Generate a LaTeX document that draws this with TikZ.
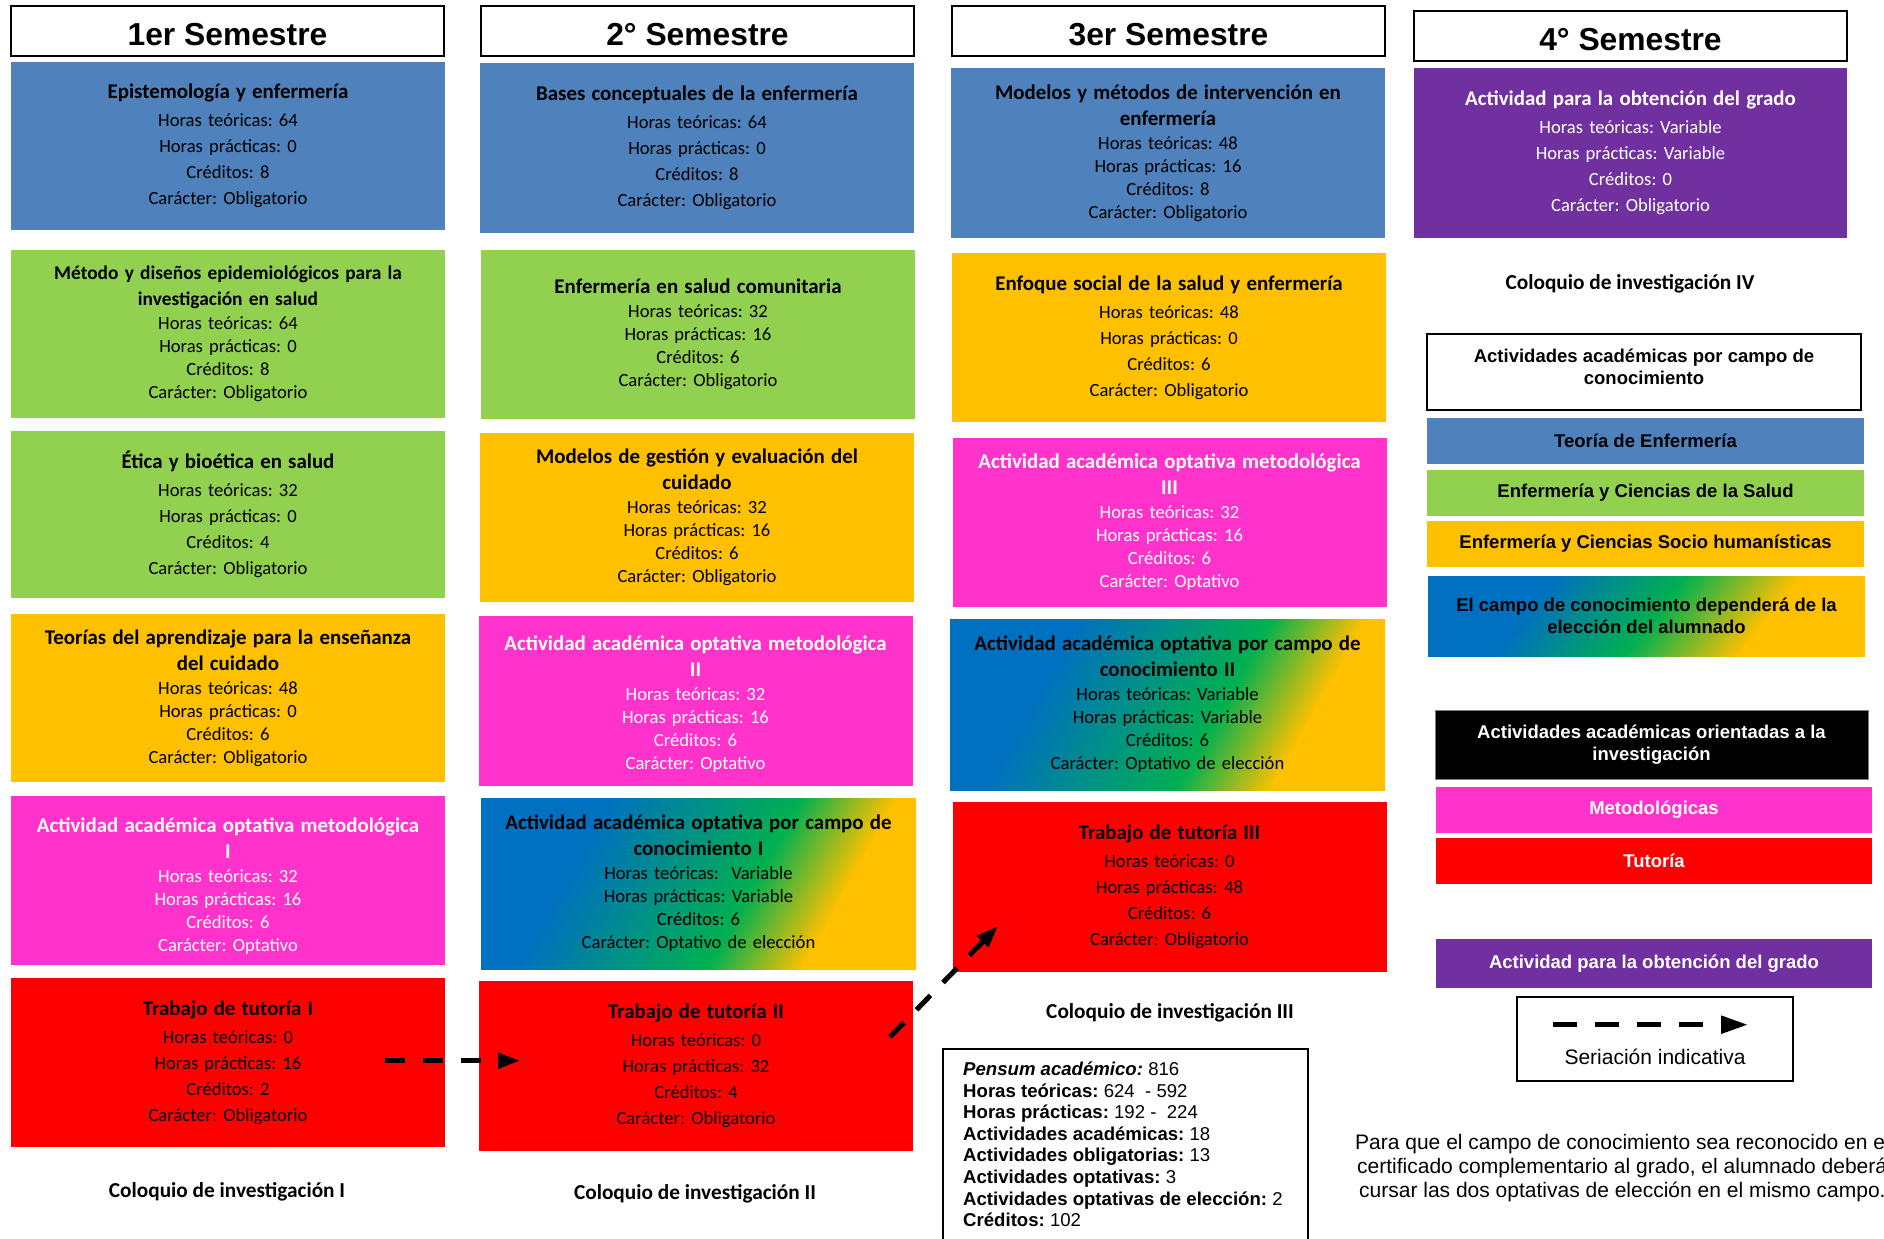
\documentclass[tikz,border=0pt]{standalone}
\usepackage{fontspec}
\setmainfont{Carlito}
\newfontfamily\arial{Liberation Sans}
\usetikzlibrary{arrows.meta}
\frenchspacing
\definecolor{cblue}{HTML}{4F81BD}
\definecolor{cgreen}{HTML}{92D050}
\definecolor{corange}{HTML}{FFC000}
\definecolor{cpink}{HTML}{FF33CC}
\definecolor{cred}{HTML}{FF0000}
\definecolor{cpurple}{HTML}{7030A0}
\definecolor{gblue}{HTML}{0070C0}
\definecolor{ggreen}{HTML}{00B050}
\pgfdeclarehorizontalshading{campoA}{100bp}{color(0bp)=(gblue); color(37.5bp)=(gblue); color(55bp)=(ggreen); color(63.7bp)=(corange); color(100bp)=(corange)}
\pgfdeclarehorizontalshading{campoB}{100bp}{color(0bp)=(gblue); color(38.2bp)=(gblue); color(50.8bp)=(ggreen); color(61.8bp)=(corange); color(100bp)=(corange)}
\newcommand\ttl[1]{{\fontsize{20.9pt}{20.9pt}\selectfont\bfseries #1}}
\newcommand\ttls[1]{{\fontsize{19.4pt}{19.4pt}\selectfont\bfseries #1}}
\begin{document}
\begin{tikzpicture}[x=1pt,y=-1pt,
  course/.style={rectangle, inner sep=0pt, outer sep=0pt, minimum width=434pt, minimum height=169pt, text width=426pt, align=center, font=\fontsize{18.6pt}{26pt}\selectfont},
  tightc/.style={font=\fontsize{18.6pt}{23pt}\selectfont},
  hdr/.style={draw=black, line width=2pt, fill=white, minimum width=433pt, minimum height=50pt, inner sep=0pt, font=\arial\bfseries\fontsize{31.8pt}{31.8pt}\selectfont},
  coloq/.style={inner sep=0pt, font=\fontsize{21.3pt}{21.3pt}\selectfont\bfseries},
  leg/.style={inner sep=0pt, outer sep=0pt, align=center, minimum width=437pt, font=\arial\bfseries\fontsize{18.5pt}{21.5pt}\selectfont},
  seria/.style={line width=5pt, dash pattern=on 20pt off 18pt, -{Triangle[length=22pt,width=15pt]}},
  serialeg/.style={line width=5.4pt, dash pattern=on 24pt off 18pt, -{Triangle[length=27pt,width=17pt]}}
]
\useasboundingbox (0,0) rectangle (1884,1239);
\clip (0,0) rectangle (1884,1239);

% gradient backgrounds (campo de conocimiento)
\begin{scope}
\clip (481,798) rectangle (916,969);
\shade[shading=campoA, transform canvas={rotate around={-29:(698.5,883.5)}}] (458.5,698.5) rectangle (938.5,1068.5);
\end{scope}
\begin{scope}
\clip (950,619) rectangle (1385,790);
\shade[shading=campoA, transform canvas={rotate around={-29:(1167.5,704.5)}}] (927.5,519.5) rectangle (1407.5,889.5);
\end{scope}
\begin{scope}
\clip (1428,576) rectangle (1865,656);
\shade[shading=campoB, transform canvas={rotate around={-38:(1646.5,616)}}] (1441.5,446) rectangle (1851.5,786);
\end{scope}

% headers
\node[hdr] (h1) at (227.5,31) {\raisebox{-4pt}[\height][\depth]{1er Semestre}};
\node[hdr] (h2) at (697.5,31) {\raisebox{-4pt}[\height][\depth]{2° Semestre}};
\node[hdr] (h3) at (1168.5,31) {\raisebox{-4pt}[\height][\depth]{3er Semestre}};
\node[hdr] (h4) at (1630.5,36) {\raisebox{-4pt}[\height][\depth]{4° Semestre}};

% column 1
\node[course, fill=cblue, minimum height=168pt] (c1a) at (228,146) {\ttl{Epistemología y enfermería}\\[2pt] Horas teóricas: 64\\ Horas prácticas: 0\\ Créditos: 8\\ Carácter: Obligatorio};
\node[course, tightc, fill=cgreen, minimum height=168pt] (c1b) at (228,334) {\ttls{Método y diseños epidemiológicos para la}\\[3pt]\ttls{investigación en salud}\\[1pt] Horas teóricas: 64\\ Horas prácticas: 0\\ Créditos: 8\\ Carácter: Obligatorio};
\node[course, fill=cgreen, minimum height=167pt] (c1c) at (228,514.5) {\ttl{Ética y bioética en salud}\\[2pt] Horas teóricas: 32\\ Horas prácticas: 0\\ Créditos: 4\\ Carácter: Obligatorio};
\node[course, tightc, fill=corange, minimum height=168pt] (c1d) at (228,698) {\ttl{Teorías del aprendizaje para la enseñanza}\\[3pt]\ttl{del cuidado}\\[1pt] Horas teóricas: 48\\ Horas prácticas: 0\\ Créditos: 6\\ Carácter: Obligatorio};
\node[course, tightc, fill=cpink, text=white] (c1e) at (228,880.5) {\rule{0pt}{26pt}\ttl{Actividad académica optativa metodológica}\\[3pt]\ttl{I}\\[1pt] Horas teóricas: 32\\ Horas prácticas: 16\\ Créditos: 6\\ Carácter: Optativo};
\node[course, fill=cred] (c1f) at (228,1062.5) {\ttl{Trabajo de tutoría I}\\[2pt] Horas teóricas: 0\\ Horas prácticas: 16\\ Créditos: 2\\ Carácter: Obligatorio};

% column 2
\node[course, fill=cblue, minimum height=170pt] (c2a) at (697,148) {\ttl{Bases conceptuales de la enfermería}\\[2pt] Horas teóricas: 64\\ Horas prácticas: 0\\ Créditos: 8\\ Carácter: Obligatorio};
\node[course, tightc, fill=cgreen] (c2b) at (698,334.5) {\ttl{Enfermería en salud comunitaria}\\[1pt] Horas teóricas: 32\\ Horas prácticas: 16\\ Créditos: 6\\ Carácter: Obligatorio};
\node[course, tightc, fill=corange] (c2c) at (697,517.5) {\ttl{Modelos de gestión y evaluación del}\\[3pt]\ttl{cuidado}\\[1pt] Horas teóricas: 32\\ Horas prácticas: 16\\ Créditos: 6\\ Carácter: Obligatorio};
\node[course, tightc, fill=cpink, text=white, minimum height=170pt] (c2d) at (695.5,701) {\rule{0pt}{21pt}\ttl{Actividad académica optativa metodológica}\\[3pt]\ttl{II}\\[1pt] Horas teóricas: 32\\ Horas prácticas: 16\\ Créditos: 6\\ Carácter: Optativo};
\node[course, tightc, minimum width=435pt, minimum height=171pt] (c2e) at (698.5,883.5) {\ttl{Actividad académica optativa por campo de}\\[3pt]\ttl{conocimiento I}\\[1pt] Horas teóricas:~ Variable\\ Horas prácticas: Variable\\ Créditos: 6\\ Carácter: Optativo de elección};
\node[course, fill=cred, minimum height=170pt] (c2f) at (696,1066) {\ttl{Trabajo de tutoría II}\\[2pt] Horas teóricas: 0\\ Horas prácticas: 32\\ Créditos: 4\\ Carácter: Obligatorio};

% column 3
\node[course, tightc, fill=cblue, minimum height=170pt] (c3a) at (1168,153) {\ttl{Modelos y métodos de intervención en}\\[3pt]\ttl{enfermería}\\[1pt] Horas teóricas: 48\\ Horas prácticas: 16\\ Créditos: 8\\ Carácter: Obligatorio};
\node[course, fill=corange] (c3b) at (1169,337.5) {\ttl{Enfoque social de la salud y enfermería}\\[2pt] Horas teóricas: 48\\ Horas prácticas: 0\\ Créditos: 6\\ Carácter: Obligatorio};
\node[course, tightc, fill=cpink, text=white] (c3c) at (1169.5,522) {\ttl{Actividad académica optativa metodológica}\\[3pt]\ttl{III}\\[1pt] Horas teóricas: 32\\ Horas prácticas: 16\\ Créditos: 6\\ Carácter: Optativo};
\node[course, tightc, minimum width=435pt, minimum height=171pt] (c3d) at (1167.5,704.5) {\ttl{Actividad académica optativa por campo de}\\[3pt]\ttl{conocimiento II}\\[1pt] Horas teóricas: Variable\\ Horas prácticas: Variable\\ Créditos: 6\\ Carácter: Optativo de elección};
\node[course, fill=cred, minimum height=170pt] (c3e) at (1169.5,886.5) {\ttl{Trabajo de tutoría III}\\[2pt] Horas teóricas: 0\\ Horas prácticas: 48\\ Créditos: 6\\ Carácter: Obligatorio};

% column 4
\node[course, fill=cpurple, text=white, minimum width=433pt, minimum height=170pt] (c4a) at (1630.5,153) {\ttl{Actividad para la obtención del grado}\\[2pt] Horas teóricas: Variable\\ Horas prácticas: Variable\\ Créditos: 0\\ Carácter: Obligatorio};

% coloquios
\node[coloq] (q1) at (227,1192) {Coloquio de investigación I};
\node[coloq] (q2) at (695,1194) {Coloquio de investigación II};
\node[coloq] (q3) at (1170,1013) {Coloquio de investigación III};
\node[coloq] (q4) at (1630,283.5) {Coloquio de investigación IV};

% legend
\node[draw=black, line width=1.5pt, fill=white, minimum width=434pt, minimum height=76pt, inner sep=0pt] (l0) at (1644,372) {};
\node[leg, minimum width=0pt] (l0t) at (1644,367) {Actividades académicas por campo de\\conocimiento};
\node[leg, fill=cblue, minimum height=46pt] (l1) at (1645.5,441) {Teoría de Enfermería};
\node[leg, fill=cgreen, minimum height=46pt] (l2) at (1645.5,492.5) {Enfermería y Ciencias de la Salud};
\node[leg, fill=corange, minimum height=46pt] (l3) at (1645.5,544) {Enfermería y Ciencias Socio humanísticas};
\node[leg, minimum height=80pt] (l4) at (1646.5,616) {El campo de conocimiento dependerá de la\\elección del alumnado};
\node[leg, fill=black, draw=gray, line width=1pt, text=white, minimum width=433pt, minimum height=69pt] (l5) at (1651.5,744.5) {Actividades académicas orientadas a la\\investigación};
\node[leg, fill=cpink, text=white, minimum width=436pt, minimum height=46pt] (l6) at (1654,810) {Metodológicas};
\node[leg, fill=cred, text=white, minimum width=436pt, minimum height=46pt] (l7) at (1654,860.5) {Tutoría};
\node[leg, fill=cpurple, text=white, minimum width=436pt, minimum height=49pt] (l8) at (1654,963.5) {Actividad para la obtención del grado};
\node[draw=black, line width=2pt, minimum width=276pt, minimum height=84pt, inner sep=0pt] (l9) at (1655,1039) {};
\coordinate (s1) at (1553,1024.7);
\coordinate (s2) at (1748,1024.7);
\draw[serialeg] (s1) -- (s2);
\node[inner sep=0pt, font=\arial\fontsize{21pt}{21pt}\selectfont] (l9t) at (1655,1057) {Seriación indicativa};

% pensum
\node[draw=black, line width=2pt, anchor=north west, minimum width=365pt, minimum height=220pt, inner sep=0pt] (pb) at (942,1048) {};
\node[anchor=north west, inner sep=0pt, align=left, font=\arial\fontsize{18.6pt}{21.65pt}\selectfont] (pt) at (963,1061.5) {\textbf{\textit{Pensum académico:}} 816\\
\textbf{Horas teóricas:} 624~ - 592\\
\textbf{Horas prácticas:} 192 - ~224\\
\textbf{Actividades académicas:} 18\\
\textbf{Actividades obligatorias:} 13\\
\textbf{Actividades optativas:} 3\\
\textbf{Actividades optativas de elección:} 2\\
\textbf{Créditos:} 102};

% note
\node[anchor=north west, inner sep=0pt, align=left, font=\arial\fontsize{21pt}{24.2pt}\selectfont] (nota) at (1355,1134) {Para que el campo de conocimiento sea reconocido en el\\\hspace*{2pt}certificado complementario al grado, el alumnado deberá\\\hspace*{4pt}cursar las dos optativas de elección en el mismo campo.};

% seriation arrows
\coordinate (a1s) at (385,1060.7);
\coordinate (a1e) at (520,1060.7);
\draw[seria] (a1s) -- (a1e);
\coordinate (a2s) at (890,1037);
\coordinate (a2e) at (998,926);
\draw[seria] (a2s) -- (a2e);
\end{tikzpicture}
\end{document}
